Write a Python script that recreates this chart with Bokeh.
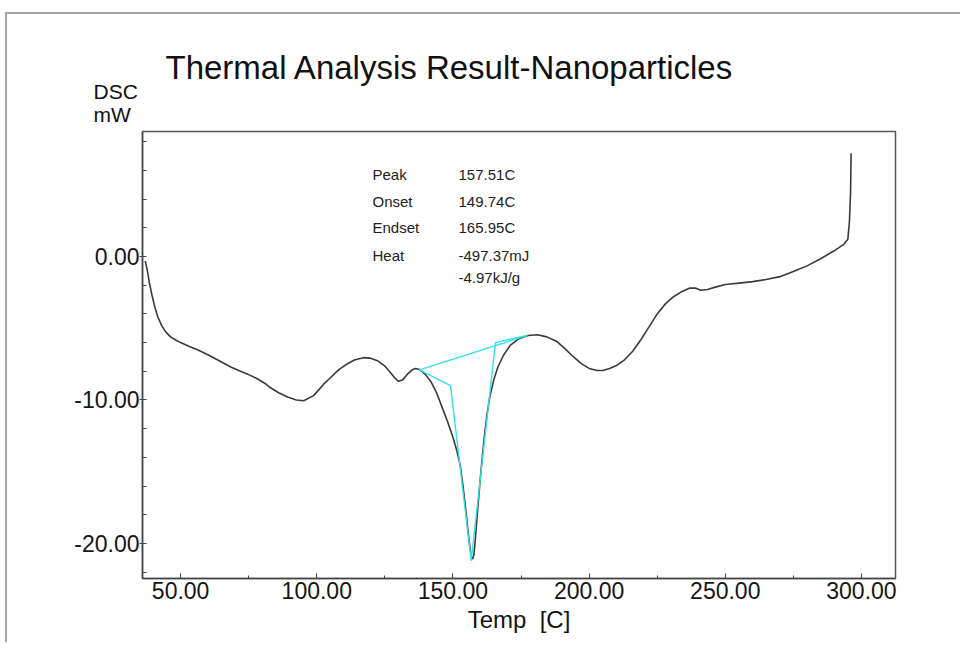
from bokeh.plotting import figure
from bokeh.models import FixedTicker, PrintfTickFormatter, Label, Range1d, Title
from bokeh.embed import file_html
from bokeh.resources import INLINE

# ---- data ----
temp = [37.0, 37.8, 38.6, 39.5, 40.5, 41.6, 43.0, 44.5, 46.3, 48.5, 50.0, 53.0, 56.2, 60.0,
        64.0, 68.4, 72.0, 74.6, 78.0, 81.0, 83.0, 86.0, 89.3, 92.5, 95.2, 98.8, 100.5, 102.5,
        105.0, 108.0, 111.3, 114.0, 117.2, 119.5, 122.3, 124.8, 127.1, 128.8, 130.0, 131.5,
        133.3, 135.0, 136.3, 138.0, 140.0, 142.0, 144.0, 146.0, 148.0, 150.0, 151.5, 152.7,
        153.7, 154.6, 155.4, 156.1, 156.7, 157.2, 157.7, 158.3, 159.0, 159.8, 160.6, 161.5,
        162.5, 163.6, 165.0, 166.5, 168.5, 171.0, 174.0, 177.5, 181.0, 184.5, 188.0, 191.0,
        194.0, 197.0, 200.0, 203.0, 205.0, 207.5, 210.0, 213.0, 216.0, 219.0, 222.0, 225.0,
        228.0, 231.0, 234.0, 237.0, 239.0, 241.0, 243.5, 246.0, 250.0, 255.0, 260.0, 265.0,
        270.0, 275.0, 280.0, 285.0, 290.0, 293.5, 295.0, 295.6, 296.0, 296.2]
dsc = [-0.3, -1.0, -1.9, -2.7, -3.5, -4.2, -4.8, -5.25, -5.6, -5.85, -6.0, -6.25, -6.5, -6.85,
       -7.25, -7.7, -8.0, -8.2, -8.5, -8.85, -9.15, -9.5, -9.8, -10.0, -10.05, -9.7, -9.35, -8.9,
       -8.45, -7.9, -7.47, -7.2, -7.05, -7.08, -7.26, -7.6, -8.1, -8.5, -8.7, -8.6,
       -8.2, -7.9, -7.8, -7.9, -8.25, -8.75, -9.5, -10.5, -11.5, -12.6, -13.6, -14.6,
       -16.0, -17.5, -18.9, -20.1, -20.9, -21.1, -20.8, -19.5, -17.8, -16.0, -14.3, -12.6,
       -11.0, -9.7, -8.6, -7.7, -6.9, -6.2, -5.75, -5.5, -5.45, -5.6, -5.9, -6.4,
       -6.95, -7.45, -7.8, -7.95, -7.95, -7.8, -7.6, -7.2, -6.6, -5.8, -4.9, -4.0,
       -3.3, -2.8, -2.45, -2.2, -2.2, -2.35, -2.3, -2.15, -1.95, -1.85, -1.75, -1.6,
       -1.4, -1.05, -0.65, -0.15, 0.4, 0.85, 1.2, 2.5, 4.5, 7.2]

# analysis construction lines (cyan)
base_x = [137.7, 177.3]
base_y = [-7.9, -5.5]
onset_x = [137.7, 149.1, 156.7]
onset_y = [-7.9, -9.0, -21.2]
endset_x = [156.7, 165.6, 177.3]
endset_y = [-21.2, -6.0, -5.5]

x_major = [50, 100, 150, 200, 250, 300]
x_minor = [75, 125, 175, 225, 275]
y_major = [-20, -10, 0]
y_minor = [-22, -18, -16, -14, -12, -8, -6, -4, -2, 2, 4, 6, 8]

result_names = ["Peak", "Onset", "Endset", "Heat", ""]
result_values = ["157.51C", "149.74C", "165.95C", "-497.37mJ", "-4.97kJ/g"]

title_text = "Thermal Analysis Result-Nanoparticles"
y_label_text = "DSC\nmW"
x_label = "Temp\u00a0 [C]"

FONT = "Liberation Sans"

p = figure(width=955, height=630, output_backend="svg", toolbar_location=None,
           x_range=Range1d(36.0, 312.5), y_range=Range1d(-22.45, 8.72),
           min_border_left=135, min_border_right=67, min_border_top=117, min_border_bottom=66)
p.styles = {"margin-left": "5px", "margin-top": "12px",
            "border-top": "2px solid #a6a6a6", "border-left": "2px solid #a6a6a6"}

p.grid.visible = False
p.background_fill_color = "white"
p.border_fill_color = "white"
p.outline_line_color = "#555555"
p.outline_line_width = 1.5

p.line(temp, dsc, line_color="#3a3a3a", line_width=1.6)
p.line(base_x, base_y, line_color="#33e3ea", line_width=1.4)
p.line(onset_x, onset_y, line_color="#33e3ea", line_width=1.4)
p.line(endset_x, endset_y, line_color="#33e3ea", line_width=1.4)

for ax in (p.xaxis[0], p.yaxis[0]):
    ax.axis_line_color = "#444444"
    ax.axis_line_width = 1.5
    ax.major_tick_line_color = "#444444"
    ax.minor_tick_line_color = "#444444"
    ax.major_label_text_font = FONT
    ax.major_label_text_font_size = "23px"
    ax.major_label_text_color = "#141414"
    ax.axis_label_text_font = FONT
    ax.axis_label_text_font_style = "normal"

p.xaxis[0].ticker = FixedTicker(ticks=x_major, minor_ticks=x_minor)
p.xaxis[0].formatter = PrintfTickFormatter(format="%.2f")
p.xaxis[0].major_tick_in = 5
p.xaxis[0].major_tick_out = 0
p.xaxis[0].minor_tick_in = 3
p.xaxis[0].minor_tick_out = 0
p.xaxis[0].major_label_standoff = 3
p.xaxis[0].axis_label = x_label
p.xaxis[0].axis_label_text_font_size = "24px"
p.xaxis[0].axis_label_text_color = "#141414"
p.xaxis[0].axis_label_standoff = 4

p.yaxis[0].ticker = FixedTicker(ticks=y_major, minor_ticks=y_minor)
p.yaxis[0].formatter = PrintfTickFormatter(format="%.2f")
p.yaxis[0].major_tick_in = 4
p.yaxis[0].major_tick_out = 3
p.yaxis[0].minor_tick_in = 4
p.yaxis[0].minor_tick_out = 0
p.yaxis[0].major_label_standoff = 0

# vertical-axis caption (nearest the frame) and main title above it
p.add_layout(Title(text=y_label_text, align="left", offset=-49, standoff=11,
                   text_font=FONT, text_font_size="21px", text_font_style="normal",
                   text_color="#111111", text_line_height=1.0), "above")
p.add_layout(Title(text=title_text, align="left", offset=23, standoff=-26,
                   text_font=FONT, text_font_size="33px", text_font_style="normal",
                   text_color="#111111"), "above")

# analysis results (inside the frame)
rows_y = [404, 377, 351, 323, 301]
for name, val, yy in zip(result_names, result_values, rows_y):
    if name:
        p.add_layout(Label(x=230, y=yy, x_units="screen", y_units="screen", text=name,
                           text_font=FONT, text_font_size="15px", text_color="#222222",
                           text_baseline="middle", text_align="left"))
    p.add_layout(Label(x=316, y=yy, x_units="screen", y_units="screen", text=val,
                       text_font=FONT, text_font_size="15px", text_color="#222222",
                       text_baseline="middle", text_align="left"))

open("out.html", "w").write(file_html(p, INLINE))
